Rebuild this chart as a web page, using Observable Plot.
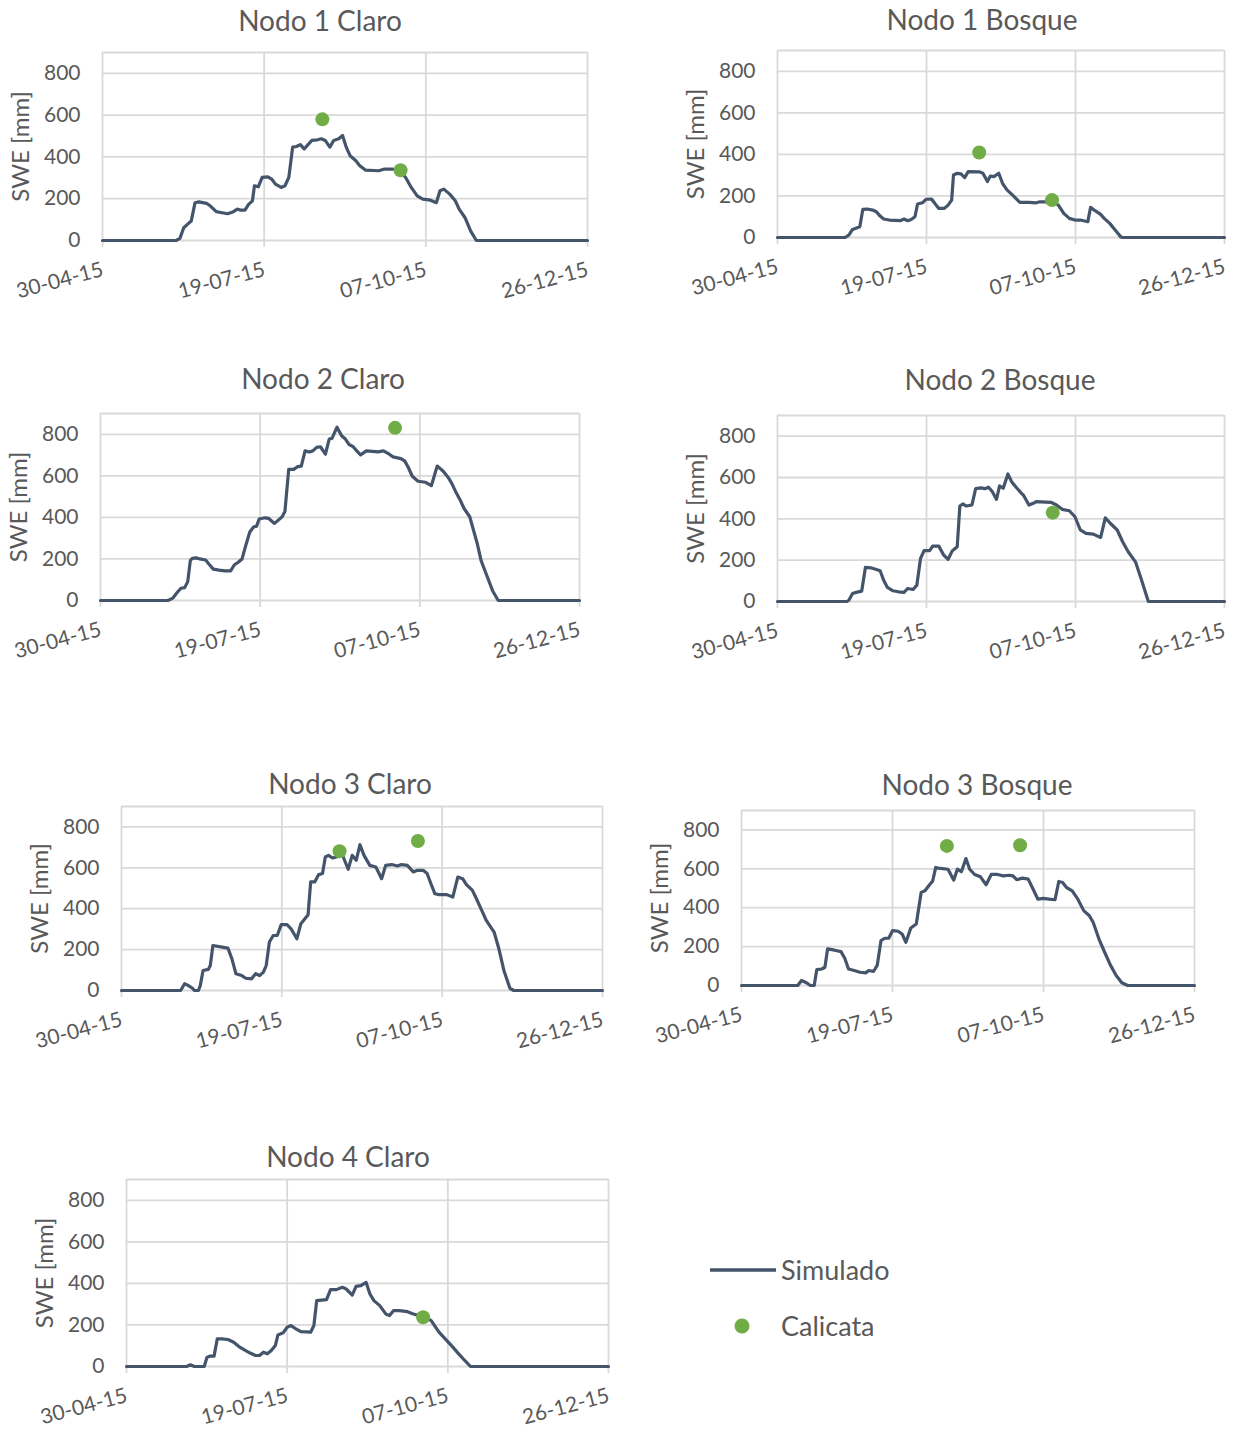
<!DOCTYPE html>
<html>
<head>
<meta charset="utf-8">
<script src="https://cdn.jsdelivr.net/npm/d3@7"></script>
<script src="https://cdn.jsdelivr.net/npm/@observablehq/plot@0.6"></script>
<style>
  body { margin: 0; background: #fff; }
  #page { position: relative; width: 1238px; height: 1429px; overflow: hidden; font-family: Lato, "Open Sans", sans-serif; color: #595959; }
  .panel { position: absolute; }
  .title { position: absolute; transform: translateX(-50%); white-space: nowrap; font-size: 28px; line-height: 1; color: #595959; }
  .legend-text { position: absolute; font-size: 27px; line-height: 1; color: #595959; white-space: nowrap; }
</style>
</head>
<body>
<div id="page"></div>
<script>
// Season axis: days counted from 30-04-15, ticks every 80 days
const seasonStart = Date.UTC(2015, 3, 30);
const xTickDays = [0, 80, 160, 240];
const xTickLabels = ["30-04-15", "19-07-15", "07-10-15", "26-12-15"];
const yTicks = [0, 200, 400, 600, 800];
const yLabel = "SWE [mm]";
const titles = ["Nodo 1 Claro", "Nodo 1 Bosque", "Nodo 2 Claro", "Nodo 2 Bosque", "Nodo 3 Claro", "Nodo 3 Bosque", "Nodo 4 Claro"];

// Simulated SWE [mm]: [day since 30-04-15, value]
const simNodo1Claro = [[0,0],[36.4,0],[38.3,10],[40.2,61],[42.0,77],[43.9,93],[45.8,181],[47.7,185],[51.5,178],[53.4,165],[56.3,138],[59.1,133],[61.9,128],[64.8,138],[66.7,150],[68.6,145],[70.5,145],[72.3,173],[74.2,190],[75.2,262],[77.1,257],[79.0,302],[81.8,305],[83.7,294],[85.6,270],[88.4,254],[90.3,262],[92.2,302],[94.1,447],[96.0,450],[97.9,459],[99.8,438],[101.7,459],[103.6,479],[106.4,482],[108.3,487],[110.2,479],[112.5,447],[114.4,479],[116.9,487],[118.8,503],[120.6,447],[122.5,406],[125.4,382],[127.3,358],[130.1,337],[136.7,334],[139.6,342],[143.4,342],[147.2,334],[150.0,302],[152.8,254],[155.7,214],[158.5,198],[162.3,193],[165.2,181],[167.0,238],[168.9,246],[171.8,222],[174.6,190],[176.5,150],[179.4,109],[182.2,45],[185.0,0],[240,0]];
const simNodo1Bosque = [[0,0],[36.3,0],[38.3,11],[40.3,39],[44.2,52],[45.8,135],[48.2,137],[51.1,132],[53.1,124],[55.1,103],[57.0,89],[60.0,84],[65.9,81],[67.9,89],[69.9,81],[71.8,87],[73.8,100],[75.2,161],[77.8,167],[79.7,184],[82.7,185],[84.7,161],[86.6,140],[89.6,140],[91.6,156],[93.5,180],[94.5,301],[96.5,309],[98.5,306],[100.5,288],[102.4,317],[108.3,316],[110.3,309],[112.7,269],[114.3,296],[116.2,293],[118.8,309],[120.8,261],[123.2,229],[126.1,205],[130.1,169],[135.0,169],[138.9,167],[140.9,172],[143.9,171],[146.8,180],[150.8,156],[153.7,116],[156.7,92],[159.7,84],[162.6,84],[166.6,76],[168.1,145],[170.5,129],[173.5,111],[175.4,92],[178.4,68],[181.4,35],[184.3,3],[185.3,0],[240,0]];
const simNodo2Claro = [[0,0],[33.5,0],[34.5,3],[36.4,13],[38.3,37],[40.3,59],[42.2,62],[43.7,91],[45.0,192],[46.0,203],[47.9,205],[49.8,200],[52.7,195],[54.6,172],[56.5,151],[59.4,146],[62.3,143],[65.2,143],[67.1,172],[69.0,184],[70.9,200],[72.8,265],[74.8,330],[76.7,354],[78.2,358],[79.5,392],[82.4,398],[84.3,395],[87.2,371],[89.1,387],[91.0,403],[92.4,428],[94.3,631],[96.8,631],[98.7,644],[100.6,647],[102.5,720],[104.5,715],[106.4,720],[108.3,737],[110.2,740],[112.7,704],[114.6,777],[116.0,780],[118.5,834],[120.8,793],[122.7,777],[124.6,750],[126.5,741],[128.4,720],[130.3,701],[133.2,720],[139.0,715],[141.8,720],[144.7,704],[146.6,691],[150.5,683],[152.4,672],[154.3,639],[156.2,598],[159.1,574],[162.9,569],[165.8,553],[168.7,647],[171.6,623],[174.4,590],[176.3,558],[178.3,517],[180.2,484],[182.1,444],[185.0,403],[186.9,338],[188.8,273],[190.7,192],[193.6,119],[196.5,46],[199.3,0],[240,0]];
const simNodo2Bosque = [[0,0],[37.3,0],[38.3,6],[40.3,39],[42.2,44],[45.2,50],[47.2,165],[50.1,163],[53.1,155],[55.1,149],[57.0,103],[59.0,68],[62.0,52],[64.9,47],[67.9,44],[69.9,63],[72.8,58],[74.8,79],[76.8,208],[78.7,246],[81.7,246],[83.3,268],[86.6,268],[89.2,225],[91.6,204],[93.9,246],[96.5,265],[97.9,462],[99.5,472],[101.4,462],[104.4,467],[106.4,546],[109.3,550],[111.3,546],[113.3,553],[115.3,532],[117.6,494],[119.2,559],[121.2,548],[123.7,617],[125.7,580],[128.1,553],[131.0,523],[132.0,515],[135.0,467],[138.0,478],[138.9,483],[146.8,480],[149.8,467],[152.8,446],[156.7,439],[159.7,410],[162.6,346],[165.6,330],[169.5,326],[173.5,310],[176.0,405],[178.4,381],[182.4,346],[185.3,289],[188.3,241],[192.2,192],[195.2,111],[199.1,0],[240,0]];
const simNodo3Claro = [[0,0],[29.5,0],[31.5,33],[33.4,24],[35.4,11],[36.4,0],[38.4,0],[39.3,24],[40.7,98],[43.3,103],[44.3,122],[45.6,220],[50.2,212],[53.1,207],[55.1,155],[57.1,82],[60.0,73],[62.0,60],[64.9,57],[66.9,82],[68.9,73],[70.8,90],[72.2,122],[73.8,237],[75.7,269],[77.7,269],[79.7,322],[82.6,322],[84.6,302],[87.5,253],[89.5,327],[91.5,351],[93.1,371],[94.4,531],[96.4,531],[98.4,567],[100.3,572],[101.7,653],[103.3,661],[105.3,648],[107.2,653],[110.2,664],[113.1,593],[115.1,661],[117.1,637],[119.0,713],[121.0,661],[123.9,612],[126.9,604],[129.8,547],[131.8,612],[134.8,616],[137.7,609],[139.7,616],[142.6,612],[145.6,580],[147.6,588],[150.5,588],[152.5,572],[154.4,522],[156.4,473],[158.4,469],[162.3,469],[165.3,457],[167.8,555],[170.2,547],[172.1,518],[175.1,490],[177.1,449],[179.0,408],[182.0,343],[185.9,286],[188.3,204],[190.8,98],[193.8,11],[195.7,0],[240,0]];
const simNodo3Bosque = [[0,0],[29.8,0],[31.8,26],[34.4,14],[36.5,0],[38.5,0],[39.9,82],[42.5,85],[44.2,94],[45.6,188],[48.6,183],[50.6,179],[52.7,174],[54.7,140],[56.7,85],[59.7,77],[62.8,68],[65.8,65],[67.4,77],[69.9,72],[71.9,103],[73.9,231],[75.9,243],[78.0,243],[80.0,282],[83.0,279],[85.1,265],[87.1,222],[89.7,296],[92.6,316],[95.2,479],[97.2,487],[99.2,513],[101.3,538],[102.9,607],[105.3,602],[109.4,598],[112.4,542],[114.4,598],[116.5,585],[118.9,653],[120.9,598],[123.5,571],[126.6,559],[129.6,518],[132.3,571],[135.7,571],[138.7,564],[141.8,567],[143.8,564],[145.8,544],[148.9,552],[151.9,547],[154.9,487],[157.0,444],[160.0,448],[163.0,444],[166.1,441],[168.1,535],[170.1,530],[172.2,504],[175.2,487],[178.2,444],[181.3,385],[184.3,359],[186.3,325],[189.4,239],[192.4,171],[195.4,106],[198.5,51],[201.5,14],[204.6,0],[240,0]];
const simNodo4Claro = [[0,0],[29.9,0],[31.8,8],[33.8,0],[38.7,0],[40.1,45],[41.7,50],[43.6,50],[45.2,133],[47.5,133],[50.5,130],[53.4,117],[56.4,93],[58.3,82],[61.3,66],[64.2,53],[66.2,53],[68.2,69],[70.1,61],[72.1,77],[74.1,101],[75.4,152],[78.0,162],[80.0,189],[81.9,197],[83.9,184],[86.8,168],[91.7,165],[93.3,197],[94.7,317],[99.6,322],[101.6,370],[104.5,370],[107.5,381],[109.4,373],[112.4,344],[114.3,386],[116.7,389],[119.3,405],[121.2,349],[123.2,317],[126.1,293],[129.1,253],[131.0,245],[133.0,269],[136.0,269],[139.9,264],[142.8,253],[145.8,245],[148.7,237],[151.7,221],[155.6,165],[159.5,125],[162.5,93],[165.4,61],[168.4,29],[171.3,0],[240,0]];

// Snow pit (calicata) SWE [mm]: [day since 30-04-15, value]
const obsNodo1Claro = [[108.8,580],[147.5,336]];
const obsNodo1Bosque = [[108.3,409],[147.4,180]];
const obsNodo2Claro = [[147.6,831]];
const obsNodo2Bosque = [[147.8,430]];
const obsNodo3Claro = [[108.8,681],[147.9,731]];
const obsNodo3Bosque = [[108.8,718],[147.6,721]];
const obsNodo4Claro = [[147.7,237]];

const lineColor = "#44546a";
const dotColor = "#70ad47";
const gridColor = "#d9d9d9";
const toDate = d => new Date(seasonStart + d * 864e5);
const xTickDates = xTickDays.map(toDate);

// Page placement of each panel: plot frame edges (left/right, top = 900 mm, bottom = 0 mm) and title centre
const panels = [
  {title: titles[0], sim: simNodo1Claro,  obs: obsNodo1Claro,  left: 102, right: 587,  top: 52,   bottom: 240,  tx: 320,  ty: 20},
  {title: titles[1], sim: simNodo1Bosque, obs: obsNodo1Bosque, left: 777, right: 1224, top: 50,   bottom: 237,  tx: 982,  ty: 19},
  {title: titles[2], sim: simNodo2Claro,  obs: obsNodo2Claro,  left: 100, right: 579,  top: 413,  bottom: 600,  tx: 323,  ty: 378},
  {title: titles[3], sim: simNodo2Bosque, obs: obsNodo2Bosque, left: 777, right: 1224, top: 415,  bottom: 601,  tx: 1000, ty: 379},
  {title: titles[4], sim: simNodo3Claro,  obs: obsNodo3Claro,  left: 121, right: 602,  top: 806,  bottom: 990,  tx: 350,  ty: 783},
  {title: titles[5], sim: simNodo3Bosque, obs: obsNodo3Bosque, left: 741, right: 1194, top: 810,  bottom: 985,  tx: 977,  ty: 784},
  {title: titles[6], sim: simNodo4Claro,  obs: obsNodo4Claro,  left: 126, right: 608,  top: 1179, bottom: 1366, tx: 348,  ty: 1156}
];

const page = document.getElementById("page");
const mL = 100, mR = 12, mT = 10, mB = 75;

for (const p of panels) {
  const w = (p.right - p.left) + mL + mR;
  const h = (p.bottom - p.top) + mT + mB;
  const chart = Plot.plot({
    width: w,
    height: h,
    marginLeft: mL, marginRight: mR, marginTop: mT, marginBottom: mB,
    style: {fontFamily: "Lato, 'Open Sans', sans-serif", fontSize: "21px", color: "#595959", background: "transparent", overflow: "visible", maxWidth: "none"},
    x: {type: "utc", domain: [toDate(0), toDate(240)], label: null},
    y: {domain: [0, 900], label: null},
    marks: [
      Plot.ruleY([...yTicks, 900], {stroke: gridColor, strokeWidth: 1.8}),
      Plot.ruleX(xTickDates, {stroke: gridColor, strokeWidth: 1.8}),
      Plot.axisX(xTickDates, {tickSize: 7, stroke: gridColor, strokeWidth: 1.8, tickFormat: () => ""}),
      Plot.axisY(yTicks, {tickSize: 0, tickPadding: 22}),
      Plot.text(xTickDates, {x: d => d, text: (d, i) => xTickLabels[i], frameAnchor: "bottom", dx: 2, dy: 35, rotate: -15, textAnchor: "end"}),
      Plot.text([yLabel], {frameAnchor: "left", dx: -81, rotate: -90, textAnchor: "middle", fontSize: 24}),
      Plot.line(p.sim, {x: d => toDate(d[0]), y: d => d[1], stroke: lineColor, strokeWidth: 3.2, strokeLinejoin: "round", strokeLinecap: "round"}),
      Plot.dot(p.obs, {x: d => toDate(d[0]), y: d => d[1], r: 7, fill: dotColor, stroke: "none"})
    ]
  });
  const div = document.createElement("div");
  div.className = "panel";
  div.style.left = (p.left - mL) + "px";
  div.style.top = (p.top - mT) + "px";
  div.style.width = w + "px";
  div.style.height = h + "px";
  div.appendChild(chart);
  page.appendChild(div);

  const t = document.createElement("div");
  t.className = "title";
  t.textContent = p.title;
  t.style.left = p.tx + "px";
  t.style.top = (p.ty - 14) + "px";
  page.appendChild(t);
}

// Legend
const legendSeries = ["Simulado", "Calicata"];
const lg = document.createElementNS("http://www.w3.org/2000/svg", "svg");
lg.setAttribute("width", 80);
lg.setAttribute("height", 90);
lg.style.position = "absolute"; lg.style.left = "700px"; lg.style.top = "1250px";
lg.innerHTML = `<line x1="10" x2="76" y1="20" y2="20" stroke="${lineColor}" stroke-width="3.4"/>
<circle cx="42" cy="76" r="7.5" fill="${dotColor}"/>`;
page.appendChild(lg);
legendSeries.forEach((s, i) => {
  const d = document.createElement("div");
  d.className = "legend-text";
  d.textContent = s;
  d.style.left = "781px";
  d.style.top = (i === 0 ? 1270 - 14 : 1326 - 14) + "px";
  page.appendChild(d);
});
</script>
</body>
</html>
